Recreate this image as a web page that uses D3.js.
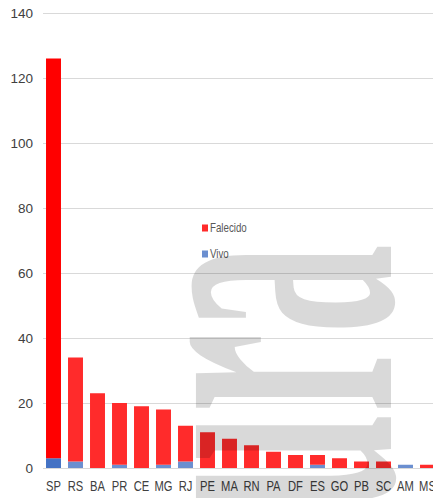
<!DOCTYPE html>
<html>
<head>
<meta charset="utf-8">
<script src="https://cdn.jsdelivr.net/npm/d3@7"></script>
<style>
  html, body { margin: 0; padding: 0; background: #fff; }
  svg { display: block; }
  text { font-family: "Liberation Sans", Arial, sans-serif; }
</style>
</head>
<body>
<svg id="chart" width="433" height="498"></svg>
<script>
// ---- data ----
const categories = ["SP","RS","BA","PR","CE","MG","RJ","PE","MA","RN","PA","DF","ES","GO","PB","SC","AM","MS"];
const vivo      = [3, 2, 0, 1, 0, 1, 2, 0, 0, 0, 0, 0, 1, 0, 0, 0, 1, 0];
const falecido  = [123, 32, 23, 19, 19, 17, 11, 11, 9, 7, 5, 4, 3, 3, 2, 2, 0, 1];
const yTicks    = [0, 20, 40, 60, 80, 100, 120, 140];
const seriesNames = ["Vivo", "Falecido"];
const legendOrder = ["Falecido", "Vivo"];
const highlighted = "SP";
const watermarkText = "ura";

// ---- layout ----
const svg = d3.select("#chart");
const plotLeft = 43, plotRight = 433, plotTop = 13, plotBottom = 468;

const rows = categories.map((c, i) => ({ cat: c, Vivo: vivo[i], Falecido: falecido[i] }));

const x = d3.scaleBand().domain(categories).range([42.5, 438.5]).paddingInner(0.32).paddingOuter(0.16);
const y = d3.scaleLinear().domain([0, 140]).range([plotBottom, plotTop]);

const colors = {
  normal:    { Vivo: "#6b8fd0", Falecido: "#ff2b2b" },
  highlight: { Vivo: "#4472c4", Falecido: "#ff0000" }
};

// gridlines + y labels
const yAxis = svg.append("g")
  .attr("transform", `translate(${plotLeft},0)`)
  .call(d3.axisLeft(y).tickValues(yTicks).tickSize(-(plotRight - plotLeft)).tickPadding(10));
yAxis.select(".domain").remove();
yAxis.selectAll(".tick line").attr("stroke", "#d9d9d9").attr("stroke-width", 1);
yAxis.selectAll(".tick text")
  .attr("fill", "#404040")
  .style("font-size", "13.5px")
  .style("font-family", "'Liberation Sans', Arial, sans-serif");

// stacked bars
const stacked = d3.stack().keys(seriesNames)(rows);
svg.append("g").selectAll("g")
  .data(stacked)
  .join("g")
  .selectAll("rect")
  .data(d => d.map(v => ({ lo: v[0], hi: v[1], cat: v.data.cat, key: d.key })))
  .join("rect")
  .attr("x", d => x(d.cat))
  .attr("width", x.bandwidth())
  .attr("y", d => y(d.hi))
  .attr("height", d => y(d.lo) - y(d.hi))
  .attr("fill", d => (d.cat === highlighted ? colors.highlight : colors.normal)[d.key]);

// x labels
const xAxis = svg.append("g")
  .attr("transform", `translate(0,${plotBottom})`)
  .call(d3.axisBottom(x).tickSize(0));
xAxis.select(".domain").remove();
xAxis.selectAll(".tick text")
  .attr("y", 23)
  .attr("dy", 0)
  .attr("fill", "#404040")
  .attr("transform", "scale(0.8,1)")
  .style("font-size", "14px")
  .style("font-family", "'Liberation Sans', Arial, sans-serif");

// legend
const legend = svg.append("g");
legendOrder.forEach((name, i) => {
  const g = legend.append("g").attr("transform", `translate(202,${224.5 + i * 26})`);
  g.append("rect").attr("width", 6).attr("height", 7).attr("fill", colors.normal[name]);
  g.append("text")
    .attr("transform", "translate(8,7.3) scale(0.78,1)")
    .attr("fill", "#595959")
    .style("font-size", "12.5px")
    .text(name);
});

// watermark (rotated serif letters, semi-transparent overlay)
svg.append("text")
  .attr("transform", "translate(391,244) rotate(-90) scale(0.42,1)")
  .attr("text-anchor", "end")
  .attr("fill", "#000")
  .attr("fill-opacity", 0.15)
  .style("font-family", "'Liberation Serif', 'DejaVu Serif', serif")
  .style("font-weight", "bold")
  .style("font-size", "425px")
  .text(watermarkText);
</script>
</body>
</html>
